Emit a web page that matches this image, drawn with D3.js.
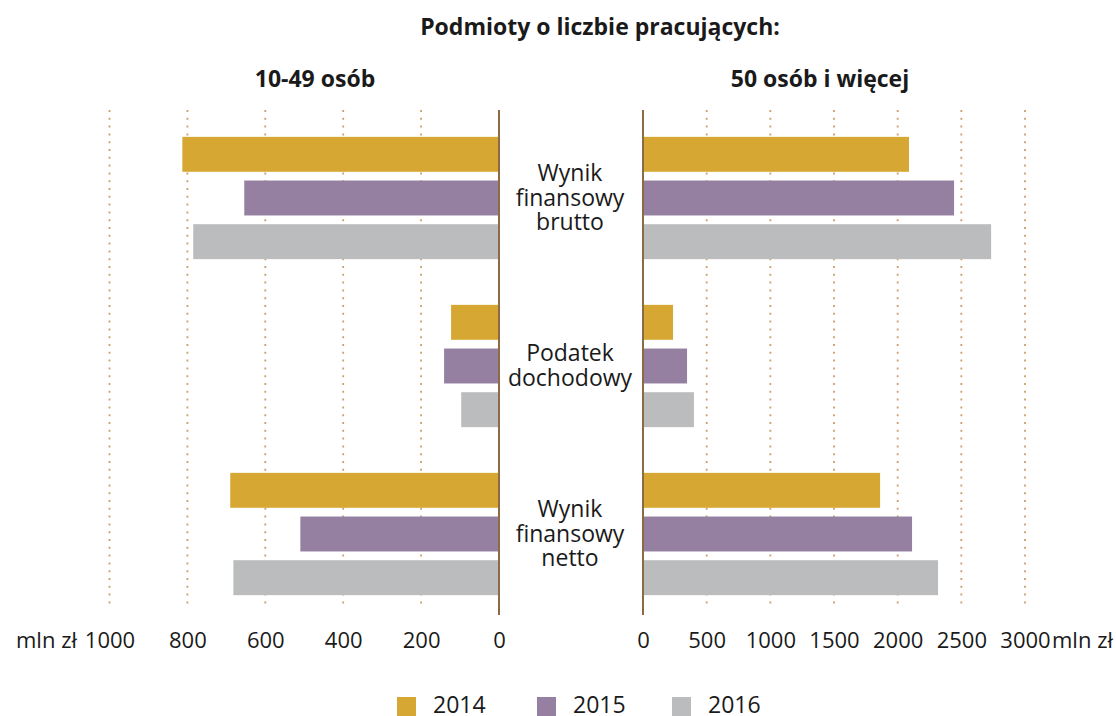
<!DOCTYPE html>
<html>
<head>
<meta charset="utf-8">
<script src="https://cdn.jsdelivr.net/npm/d3@7"></script>
<style>
  html, body { margin: 0; padding: 0; background: #ffffff; }
  svg { display: block; font-family: "Open Sans", "Noto Sans", sans-serif; }
</style>
</head>
<body>
<svg id="chart" width="1116" height="716"></svg>
<script>
// ---- data ----
const categories = ["Wynik finansowy brutto", "Podatek dochodowy", "Wynik finansowy netto"];
const categoryLines = [["Wynik", "finansowy", "brutto"], ["Podatek", "dochodowy"], ["Wynik", "finansowy", "netto"]];
const years = ["2014", "2015", "2016"];
const small2014 = [813, 123, 690];
const small2015 = [654, 141, 510];
const small2016 = [785, 97, 682];
const large2014 = [2089, 236, 1862];
const large2015 = [2443, 346, 2113];
const large2016 = [2734, 400, 2317];
const leftTicks = [0, 200, 400, 600, 800, 1000];
const rightTicks = [0, 500, 1000, 1500, 2000, 2500, 3000];
const colors = ["#D6A833", "#9580A1", "#BBBCBE"];
const title = "Podmioty o liczbie pracujących:";
const leftTitle = "10-49 osób";
const rightTitle = "50 osób i więcej";
const unit = "mln zł";

const smallSeries = [small2014, small2015, small2016];
const largeSeries = [large2014, large2015, large2016];

const svg = d3.select("#chart");

const xL = d3.scaleLinear().domain([0, 1000]).range([499, 109.5]);
const xR = d3.scaleLinear().domain([0, 3000]).range([643, 1025]);
const y0 = d3.scaleBand().domain(categories).range([114, 618]).paddingInner(0.22).paddingOuter(0.11);
const y1 = d3.scaleBand().domain(years).range([0, y0.bandwidth()]).paddingInner(0.2).paddingOuter(0.1);
const color = d3.scaleOrdinal().domain(years).range(colors);

const gridTop = 110, gridBottom = 608, axisTop = 110, axisBottom = 615;

// gridlines
const grid = svg.append("g");
grid.selectAll("line.gl").data(leftTicks.filter(d => d > 0)).join("line")
  .attr("x1", d => xL(d)).attr("x2", d => xL(d))
  .attr("y1", gridTop).attr("y2", gridBottom)
  .attr("stroke", "#C9A16B").attr("stroke-width", 1.8).attr("stroke-dasharray", "2 5.8");
grid.selectAll("line.gr").data(rightTicks.filter(d => d > 0)).join("line")
  .attr("x1", d => xR(d)).attr("x2", d => xR(d))
  .attr("y1", gridTop).attr("y2", gridBottom)
  .attr("stroke", "#C9A16B").attr("stroke-width", 1.8).attr("stroke-dasharray", "2 5.8");

// bars
const rows = [];
categories.forEach((c, i) => {
  years.forEach((yr, j) => {
    rows.push({ cat: c, year: yr, small: smallSeries[j][i], large: largeSeries[j][i] });
  });
});

svg.append("g").selectAll("rect").data(rows).join("rect")
  .attr("x", d => xL(d.small))
  .attr("width", d => xL(0) - xL(d.small))
  .attr("y", d => y0(d.cat) + y1(d.year))
  .attr("height", y1.bandwidth())
  .attr("fill", d => color(d.year));

svg.append("g").selectAll("rect").data(rows).join("rect")
  .attr("x", xR(0))
  .attr("width", d => xR(d.large) - xR(0))
  .attr("y", d => y0(d.cat) + y1(d.year))
  .attr("height", y1.bandwidth())
  .attr("fill", d => color(d.year));

// zero axis lines
[xL(0), xR(0)].forEach(x => {
  svg.append("line").attr("x1", x).attr("x2", x).attr("y1", axisTop).attr("y2", axisBottom)
    .attr("stroke", "#8C6A45").attr("stroke-width", 2);
});

// tick labels
const axY = 632;
const gl = svg.append("g").attr("transform", `translate(0,${axY})`)
  .call(d3.axisBottom(xL).tickValues(leftTicks).tickSize(0).tickPadding(0).tickFormat(d3.format("d")));
const gr = svg.append("g").attr("transform", `translate(0,${axY})`)
  .call(d3.axisBottom(xR).tickValues(rightTicks).tickSize(0).tickPadding(0).tickFormat(d3.format("d")));
[gl, gr].forEach(g => {
  g.select(".domain").remove();
  g.selectAll("text").attr("font-family", "'Open Sans', sans-serif").attr("font-size", 22).attr("fill", "#1a1a1a");
});
svg.append("text").attr("x", 77).attr("y", 648).attr("text-anchor", "end")
  .attr("font-size", 22).attr("fill", "#1a1a1a").text(unit);
svg.append("text").attr("x", 1052).attr("y", 648).attr("text-anchor", "start")
  .attr("font-size", 22).attr("fill", "#1a1a1a").text(unit);

// category labels
categories.forEach((c, i) => {
  const lines = categoryLines[i];
  const cy = y0(c) + y0.bandwidth() / 2;
  const t = svg.append("text").attr("text-anchor", "middle").attr("font-size", 23).attr("fill", "#1a1a1a");
  lines.forEach((ln, k) => {
    t.append("tspan").attr("x", 570).attr("y", cy + (k - (lines.length - 1) / 2) * 24.5 + 7.5).text(ln);
  });
});

// titles
svg.append("text").attr("x", 600).attr("y", 35).attr("text-anchor", "middle")
  .attr("font-size", 23).attr("font-weight", "bold").attr("fill", "#1a1a1a").text(title);
svg.append("text").attr("x", 315).attr("y", 87).attr("text-anchor", "middle")
  .attr("font-size", 23).attr("font-weight", "bold").attr("fill", "#1a1a1a").text(leftTitle);
svg.append("text").attr("x", 820).attr("y", 87).attr("text-anchor", "middle")
  .attr("font-size", 23).attr("font-weight", "bold").attr("fill", "#1a1a1a").text(rightTitle);

// legend
const legendX = [397, 537, 672];
const lg = svg.append("g");
years.forEach((yr, i) => {
  lg.append("rect").attr("x", legendX[i]).attr("y", 697).attr("width", 19).attr("height", 19).attr("fill", color(yr));
  lg.append("text").attr("x", legendX[i] + 36).attr("y", 713).attr("font-size", 23).attr("fill", "#1a1a1a").text(yr);
});
</script>
</body>
</html>
